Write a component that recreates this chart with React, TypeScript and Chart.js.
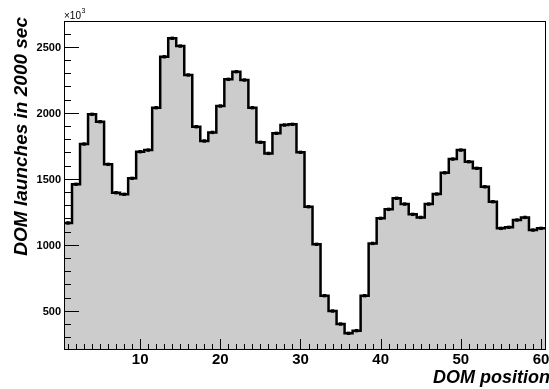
import React, { useEffect, useRef } from "react";
import { Chart, registerables } from "chart.js";

Chart.register(...registerables);

// DOM positions along the string (bin centres) and launch counts in units of 10^3
const domPositions = Array.from({ length: 60 }, (_, i) => i + 1);
const launches = [
  1165, 1458, 1763, 1988, 1932, 1609, 1394, 1382, 1503, 1705,
  1717, 2038, 2424, 2564, 2505, 2286, 1894, 1786, 1851, 2051,
  2253, 2311, 2248, 2038, 1776, 1692, 1844, 1907, 1912, 1700,
  1288, 1003, 614, 498, 399, 329, 349, 614, 1010, 1200,
  1268, 1352, 1308, 1230, 1207, 1308, 1384, 1545, 1649, 1717,
  1629, 1579, 1439, 1326, 1124, 1132, 1187, 1207, 1111, 1124,
];

const xTickLabels = [10, 20, 30, 40, 50, 60];
const yTickLabels = [500, 1000, 1500, 2000, 2500];
const xTitle = "DOM position";
const yTitle = "DOM launches in 2000 sec";

const X_MIN = 0.5;
const X_MAX = 60.5;
const Y_MIN = 210;
const Y_MAX = 2695;

const FONT = '"Liberation Sans", Arial, Helvetica, sans-serif';

// Histogram outline: one point per left bin edge plus the closing right edge
const edgePoints = [
  ...domPositions.map((x, i) => ({ x: x - 0.5, y: launches[i] })),
  { x: domPositions[domPositions.length - 1] + 0.5, y: launches[launches.length - 1] },
];
const centrePoints = domPositions.map((x, i) => ({ x, y: launches[i] }));

const framePlugin = {
  id: "rootFrame",
  afterDatasetsDraw(chart: any) {
    const { ctx, chartArea: a, scales } = chart;
    const xs = scales.x;
    const ys = scales.y;
    ctx.save();
    ctx.strokeStyle = "#000";
    ctx.lineWidth = 1;

    // y ticks, drawn inward from the left edge
    ctx.beginPath();
    for (let v = 300; v <= 2600; v += 100) {
      const py = Math.round(ys.getPixelForValue(v)) + 0.5;
      const len = v % 500 === 0 ? 15 : 7;
      ctx.moveTo(a.left, py);
      ctx.lineTo(a.left + len, py);
    }
    // x ticks, drawn upward from the bottom edge
    for (let i = 1; i <= 60; i++) {
      const px = Math.round(xs.getPixelForValue(i)) + 0.5;
      const len = i % 10 === 0 ? 10 : 5;
      ctx.moveTo(px, a.bottom);
      ctx.lineTo(px, a.bottom - len);
    }
    ctx.stroke();

    // frame
    ctx.strokeRect(a.left + 0.5, a.top + 0.5, a.right - a.left, a.bottom - a.top);

    ctx.fillStyle = "#000";
    // y tick labels
    ctx.font = `bold 11px ${FONT}`;
    ctx.textAlign = "right";
    ctx.textBaseline = "alphabetic";
    for (const v of yTickLabels) {
      const py = ys.getPixelForValue(v);
      ctx.fillText(String(v), a.left - 3, py + 4);
    }
    // x tick labels
    ctx.font = `bold 15px ${FONT}`;
    ctx.textAlign = "center";
    for (const v of xTickLabels) {
      const px = xs.getPixelForValue(v);
      ctx.fillText(String(v), px, a.bottom + 15);
    }

    // exponent marker above the y axis
    ctx.textAlign = "left";
    ctx.font = `10px ${FONT}`;
    ctx.fillText("\u00d710", a.left, a.top - 2);
    const w = ctx.measureText("\u00d710").width;
    ctx.font = `7px ${FONT}`;
    ctx.fillText("3", a.left + w + 0.5, a.top - 8);

    // axis titles
    ctx.font = `italic bold 18px ${FONT}`;
    ctx.textAlign = "right";
    ctx.fillText(xTitle, 550, 383);

    ctx.save();
    ctx.translate(27, a.top - 4);
    ctx.rotate(-Math.PI / 2);
    ctx.font = `italic bold 19px ${FONT}`;
    ctx.textAlign = "right";
    ctx.fillText(yTitle, 0, 0);
    ctx.restore();

    ctx.restore();
  },
};

export default function App() {
  const canvasRef = useRef<HTMLCanvasElement | null>(null);

  useEffect(() => {
    const canvas = canvasRef.current;
    if (!canvas) return;
    const chart = new Chart(canvas, {
      type: "line",
      data: {
        datasets: [
          {
            label: "bin markers",
            data: centrePoints,
            showLine: false,
            pointStyle: "rect",
            pointRadius: 2.4,
            pointBackgroundColor: "#000",
            pointBorderColor: "#000",
            pointBorderWidth: 0,
          },
          {
            label: "launches",
            data: edgePoints,
            stepped: "before",
            fill: "start",
            backgroundColor: "#cccccc",
            borderColor: "#000",
            borderWidth: 2.5,
            pointRadius: 0,
          },
        ],
      } as any,
      options: {
        responsive: false,
        animation: false,
        devicePixelRatio: 1,
        layout: { padding: { top: 21, right: 1, left: 0, bottom: 0 } },
        plugins: {
          legend: { display: false },
          tooltip: { enabled: false },
        },
        events: [],
        scales: {
          x: {
            type: "linear",
            min: X_MIN,
            max: X_MAX,
            grid: { display: false },
            border: { display: false },
            ticks: { display: false },
            afterFit: (s: any) => {
              s.height = 40;
            },
          },
          y: {
            type: "linear",
            min: Y_MIN,
            max: Y_MAX,
            grid: { display: false },
            border: { display: false },
            ticks: { display: false },
            afterFit: (s: any) => {
              s.width = 64;
            },
          },
        },
      } as any,
      plugins: [framePlugin],
    });
    return () => chart.destroy();
  }, []);

  return (
    <canvas
      ref={canvasRef}
      width={549}
      height={389}
      style={{ position: "absolute", left: 0, top: 0, display: "block", background: "#fff" }}
    />
  );
}
